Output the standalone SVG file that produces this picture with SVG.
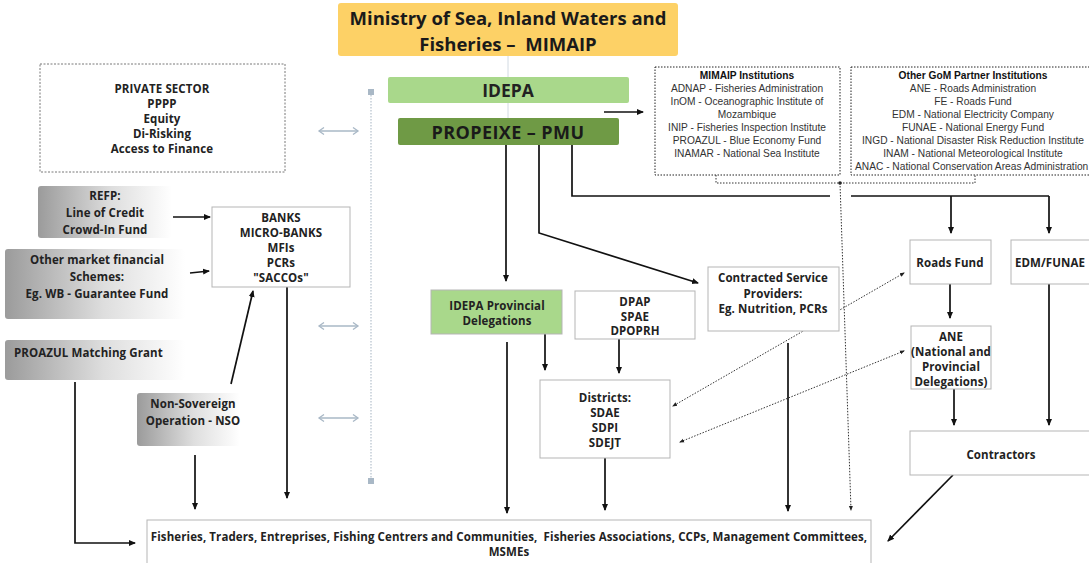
<svg xmlns="http://www.w3.org/2000/svg" width="1089" height="563" viewBox="0 0 1089 563">
<defs>
<linearGradient id="g" x1="0" y1="0" x2="1" y2="0">
<stop offset="0" stop-color="#9b9b9b"/>
<stop offset="0.55" stop-color="#dedede"/>
<stop offset="1" stop-color="#ffffff"/>
</linearGradient>
<marker id="ah" markerWidth="8" markerHeight="8" refX="6" refY="4" orient="auto" markerUnits="userSpaceOnUse">
<path d="M0,1 L7,4 L0,7 Z" fill="#111"/>
</marker>
<marker id="sh" markerWidth="6" markerHeight="6" refX="4" refY="3" orient="auto-start-reverse" markerUnits="userSpaceOnUse">
<path d="M0,1 L5,3 L0,5 Z" fill="#222"/>
</marker>
<marker id="dh" markerWidth="8" markerHeight="8" refX="6" refY="4" orient="auto-start-reverse" markerUnits="userSpaceOnUse">
<path d="M1,0.5 L6,4 L1,7.5" fill="none" stroke="#a9b8c6" stroke-width="1.3"/>
</marker>
</defs>
<style>
text{font-family:"Open Sans","Liberation Sans",sans-serif;text-anchor:middle;dominant-baseline:central}
.b{font-weight:700;font-size:11.5px;letter-spacing:0.1px;fill:#222}
.r{font-family:"Liberation Sans",Arial,sans-serif;font-size:10.2px;fill:#333}
.rt{font-family:"Liberation Sans",Arial,sans-serif;font-size:10.2px;font-weight:700;fill:#111}
.h{font-weight:700;font-size:18.5px;fill:#1a1a1a}
.box{fill:#fff;stroke:#b5b5b5;stroke-width:1}
.grad{fill:url(#g)}
.ln{fill:none;stroke:#111;stroke-width:1.7}
.dot{fill:none;stroke:#333;stroke-width:1;stroke-dasharray:1.5 1.5}
.dbl{fill:none;stroke:#a9b8c6;stroke-width:1.3}
</style>
<rect width="1089" height="563" fill="#fff"/>

<g id="connectors">
<line x1="508" y1="56" x2="508" y2="118" stroke="#d2dae2" stroke-width="1"/>
<line x1="371" y1="95" x2="371" y2="480" stroke="#b4c0cc" stroke-width="1.2" stroke-dasharray="1.5 1.5"/>
<rect x="368" y="89" width="6" height="6" fill="#a9b8c6"/>
<rect x="368" y="478" width="6" height="6" fill="#a9b8c6"/>
<line class="dbl" x1="319" y1="131" x2="358" y2="131" marker-start="url(#dh)" marker-end="url(#dh)"/>
<line class="dbl" x1="319" y1="326" x2="358" y2="326" marker-start="url(#dh)" marker-end="url(#dh)"/>
<line class="dbl" x1="319" y1="418" x2="358" y2="418" marker-start="url(#dh)" marker-end="url(#dh)"/>

<line class="ln" x1="173" y1="217" x2="210" y2="217" marker-end="url(#ah)"/>
<line class="ln" x1="190" y1="273" x2="209" y2="271" marker-end="url(#ah)"/>
<line class="ln" x1="231" y1="384" x2="253" y2="291" marker-end="url(#ah)"/>
<line class="ln" x1="287" y1="287" x2="287" y2="498" marker-end="url(#ah)"/>
<line class="ln" x1="195" y1="455" x2="195" y2="509" marker-end="url(#ah)"/>
<polyline class="ln" points="75,382 75,543 135,543" marker-end="url(#ah)"/>

<line class="ln" x1="604" y1="112" x2="643" y2="112" marker-end="url(#ah)"/>
<line class="ln" x1="506" y1="145" x2="506" y2="281" marker-end="url(#ah)"/>
<polyline class="ln" points="539,145 539,233 698,283" marker-end="url(#ah)"/>
<polyline class="ln" points="572,145 572,196 830,196"/>
<line class="ln" x1="851" y1="196" x2="1049" y2="196"/>
<line class="ln" x1="951" y1="196" x2="951" y2="233" marker-end="url(#ah)"/>
<line class="ln" x1="1049" y1="196" x2="1049" y2="233" marker-end="url(#ah)"/>

<line class="ln" x1="507" y1="342" x2="507" y2="513" marker-end="url(#ah)"/>
<line class="ln" x1="545" y1="334" x2="545" y2="370" marker-end="url(#ah)"/>
<line class="ln" x1="619" y1="339" x2="619" y2="373" marker-end="url(#ah)"/>
<line class="ln" x1="605" y1="458" x2="605" y2="510" marker-end="url(#ah)"/>
<line class="ln" x1="788" y1="343" x2="788" y2="511" marker-end="url(#ah)"/>

<line class="ln" x1="950" y1="284" x2="950" y2="318" marker-end="url(#ah)"/>
<line class="ln" x1="954" y1="389" x2="954" y2="425" marker-end="url(#ah)"/>
<line class="ln" x1="1049" y1="284" x2="1049" y2="425" marker-end="url(#ah)"/>
<line class="ln" x1="953" y1="475" x2="888" y2="541" marker-end="url(#ah)"/>

<line class="dot" x1="904" y1="273" x2="673" y2="406" marker-start="url(#sh)" marker-end="url(#sh)"/>
<line class="dot" x1="904" y1="351" x2="680" y2="442" marker-start="url(#sh)" marker-end="url(#sh)"/>
<polyline class="dot" points="716,175 716,183 975,183 975,175" stroke-dasharray="2 1.5" stroke-width="1.2"/>
<circle cx="840" cy="183" r="1.8" fill="#222"/>
<line class="dot" x1="840" y1="183" x2="851" y2="510" marker-end="url(#sh)"/>
</g>

<g id="ministry">
<rect x="338" y="3" width="340" height="53" rx="3" fill="#fdd166"/>
<text class="h" x="508" y="17">Ministry of Sea, Inland Waters and</text>
<text class="h" x="508" y="43">Fisheries –&#160; MIMAIP</text>
</g>
<g id="idepa">
<rect x="388" y="77" width="241" height="26" rx="2" fill="#a9d88b"/>
<text x="508" y="90" style="font-weight:700;font-size:17.5px;fill:#222">IDEPA</text>
</g>
<g id="propeixe">
<rect x="398" y="118" width="221" height="27" rx="2" fill="#6f9a45"/>
<text x="508" y="132" style="font-weight:700;font-size:18px;letter-spacing:0.4px;fill:#1a1a1a">PROPEIXE – PMU</text>
</g>

<g id="private-sector">
<rect x="40" y="64" width="245" height="108" fill="#fff" stroke="#555" stroke-width="0.8" stroke-dasharray="2 1.5"/>
<text class="b" x="162" y="88">PRIVATE SECTOR</text>
<text class="b" x="162" y="103">PPPP</text>
<text class="b" x="162" y="118">Equity</text>
<text class="b" x="162" y="133">Di-Risking</text>
<text class="b" x="162" y="148">Access to Finance</text>
</g>

<g id="refp">
<rect class="grad" x="38" y="186" width="134" height="52" rx="3"/>
<text class="b" x="105" y="195">REFP:</text>
<text class="b" x="105" y="212">Line of Credit</text>
<text class="b" x="105" y="229">Crowd-In Fund</text>
</g>
<g id="other-market">
<rect class="grad" x="5" y="249" width="180" height="70" rx="3"/>
<text class="b" x="97" y="259">Other market financial</text>
<text class="b" x="97" y="276">Schemes:</text>
<text class="b" x="97" y="293">Eg. WB - Guarantee Fund</text>
</g>
<g id="proazul">
<rect class="grad" x="5" y="340" width="180" height="40" rx="3"/>
<text class="b" x="14" y="352" style="text-anchor:start">PROAZUL Matching Grant</text>
</g>
<g id="nso">
<rect class="grad" x="137" y="393" width="103" height="53" rx="3"/>
<text class="b" x="193" y="403">Non-Sovereign</text>
<text class="b" x="193" y="420">Operation - NSO</text>
</g>

<g id="banks">
<rect class="box" x="212" y="207" width="138" height="80"/>
<text class="b" x="281" y="217">BANKS</text>
<text class="b" x="281" y="232">MICRO-BANKS</text>
<text class="b" x="281" y="247">MFIs</text>
<text class="b" x="281" y="262">PCRs</text>
<text class="b" x="281" y="277">"SACCOs"</text>
</g>

<g id="mimaip-institutions">
<rect x="655" y="67" width="185" height="108" fill="#fff" stroke="#222" stroke-width="1" stroke-dasharray="1.5 1.5"/>
<text class="rt" x="747" y="75">MIMAIP Institutions</text>
<text class="r" x="747" y="88">ADNAP - Fisheries Administration</text>
<text class="r" x="747" y="101">InOM - Oceanographic Institute of</text>
<text class="r" x="747" y="114">Mozambique</text>
<text class="r" x="747" y="127">INIP - Fisheries Inspection Institute</text>
<text class="r" x="747" y="140">PROAZUL - Blue Economy Fund</text>
<text class="r" x="747" y="153">INAMAR - National Sea Institute</text>
</g>
<g id="gom-partners">
<rect x="851" y="67" width="245" height="108" fill="#fff" stroke="#222" stroke-width="1" stroke-dasharray="1.5 1.5"/>
<text class="rt" x="973" y="75">Other GoM Partner Institutions</text>
<text class="r" x="973" y="88">ANE - Roads Administration</text>
<text class="r" x="973" y="101">FE - Roads Fund</text>
<text class="r" x="973" y="114">EDM - National Electricity Company</text>
<text class="r" x="973" y="127">FUNAE - National Energy Fund</text>
<text class="r" x="973" y="140">INGD - National Disaster Risk Reduction Institute</text>
<text class="r" x="973" y="153">INAM - National Meteorological Institute</text>
<text class="r" x="855" y="166" style="text-anchor:start">ANAC - National Conservation Areas Administration</text>
</g>

<g id="idepa-provincial">
<rect x="431" y="290" width="131" height="44" fill="#a9d88b" stroke="#b5b5b5" stroke-width="1"/>
<text class="b" x="497" y="305">IDEPA Provincial</text>
<text class="b" x="497" y="320">Delegations</text>
</g>
<g id="dpap">
<rect class="box" x="575" y="291" width="120" height="48"/>
<text class="b" x="635" y="301">DPAP</text>
<text class="b" x="635" y="316">SPAE</text>
<text class="b" x="635" y="330">DPOPRH</text>
</g>
<g id="contracted">
<rect class="box" x="708" y="267" width="131" height="64"/>
<text class="b" x="773" y="277">Contracted Service</text>
<text class="b" x="773" y="293">Providers:</text>
<text class="b" x="773" y="308">Eg. Nutrition, PCRs</text>
</g>
<g id="districts">
<rect class="box" x="540" y="380" width="130" height="78"/>
<text class="b" x="605" y="397">Districts:</text>
<text class="b" x="605" y="412">SDAE</text>
<text class="b" x="605" y="427">SDPI</text>
<text class="b" x="605" y="442">SDEJT</text>
</g>
<g id="roads-fund">
<rect class="box" x="910" y="240" width="81" height="44"/>
<text class="b" x="950" y="262">Roads Fund</text>
</g>
<g id="edm-funae">
<rect class="box" x="1011" y="240" width="83" height="44"/>
<text class="b" x="1050" y="262">EDM/FUNAE</text>
</g>
<g id="ane">
<rect class="box" x="911" y="326" width="80" height="63"/>
<text class="b" x="951" y="336">ANE</text>
<text class="b" x="951" y="351">(National and</text>
<text class="b" x="951" y="366">Provincial</text>
<text class="b" x="951" y="381">Delegations)</text>
</g>
<g id="contractors">
<rect class="box" x="910" y="431" width="185" height="44"/>
<text class="b" x="1001" y="454">Contractors</text>
</g>
<g id="beneficiaries">
<rect class="box" x="147" y="520" width="724" height="50"/>
<text class="b" x="509" y="536">Fisheries, Traders, Entreprises, Fishing Centrers and Communities,&#160; Fisheries Associations, CCPs, Management Committees,</text>
<text class="b" x="509" y="551">MSMEs</text>
</g>
</svg>
